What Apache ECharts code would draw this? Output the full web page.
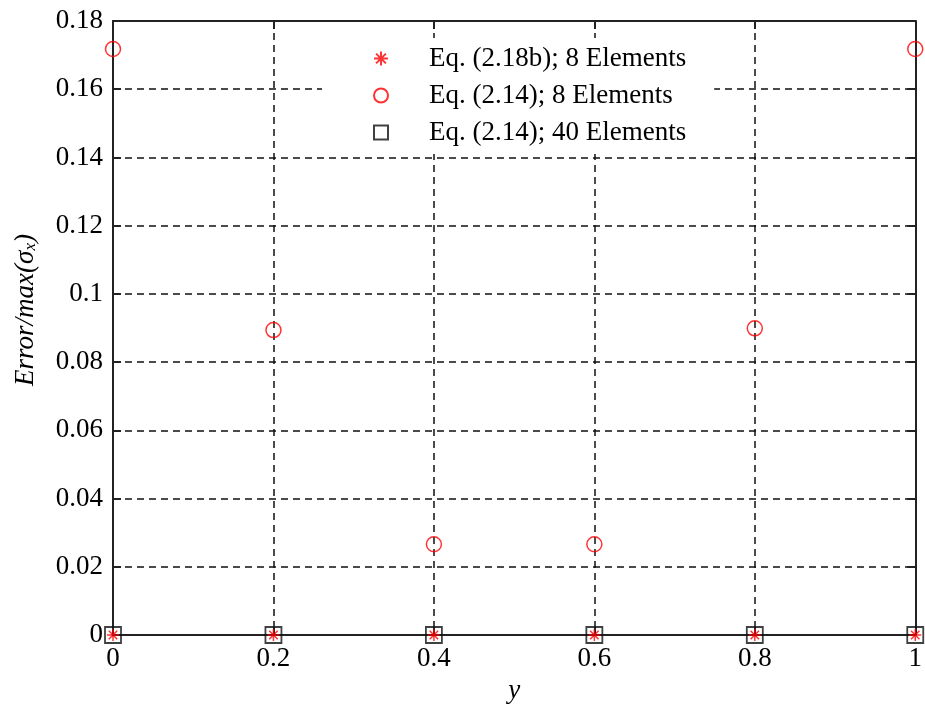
<!DOCTYPE html>
<html>
<head>
<meta charset="utf-8">
<script src="https://cdn.jsdelivr.net/npm/echarts@6/dist/echarts.min.js"></script>
<style>html,body{margin:0;padding:0;background:#fff}#c{width:925px;height:710px}</style>
</head>
<body>
<div id="c"></div>
<script>
// Data
const xValues = [0, 0.2, 0.4, 0.6, 0.8, 1];
const eq218b8 = [0, 0, 0, 0, 0, 0];
const eq214_8 = [0.1718, 0.0894, 0.0266, 0.0266, 0.0899, 0.1718];
const eq214_40 = [0, 0, 0, 0, 0, 0];
const seriesNames = ['Eq. (2.18b); 8 Elements', 'Eq. (2.14); 8 Elements', 'Eq. (2.14); 40 Elements'];

const pairs = arr => xValues.map((x, i) => [x, arr[i]]);
const font = 'Liberation Serif';
const starPath = 'path://M0 -6 L0 6 M-6 0 L6 0 M-4.2 -4.2 L4.2 4.2 M-4.2 4.2 L4.2 -4.2';

const chart = echarts.init(document.getElementById('c'));
const axisCommon = {
  axisLine: { onZero: false, lineStyle: { color: '#222', width: 2 } },
  axisTick: { inside: true, length: 8, lineStyle: { color: '#222', width: 2 } },
};
const gridLine = { show: true, lineStyle: { color: '#111', type: [7, 5], width: 1.5 } };
chart.setOption({
  animation: false,
  backgroundColor: '#fff',
  grid: { left: 113, right: 5, top: 21, bottom: 75, containLabel: false },
  legend: {
    orient: 'vertical',
    left: 322, top: 38,
    padding: [7, 28, 8, 51],
    backgroundColor: '#fff',
    itemWidth: 14, itemHeight: 14,
    itemGap: 10,
    data: seriesNames.map(n => ({ name: n })),
    textStyle: { fontFamily: font, fontSize: 27, color: '#000', padding: [0, 0, 0, 36], lineHeight: 27 }
  },
  xAxis: [{
    type: 'value', min: 0, max: 1, interval: 0.2, position: 'bottom',
    name: 'y', nameLocation: 'middle', nameGap: 42,
    nameTextStyle: { fontFamily: font, fontSize: 27, fontStyle: 'italic', color: '#000' },
    ...axisCommon,
    axisLabel: { fontFamily: font, fontSize: 27, color: '#000', margin: 10, formatter: v => String(+v.toFixed(1)) },
    splitLine: gridLine
  }, {
    type: 'value', min: 0, max: 1, interval: 0.2, position: 'top',
    ...axisCommon, axisLabel: { show: false }, splitLine: { show: false }
  }],
  yAxis: [{
    type: 'value', min: 0, max: 0.18, interval: 0.02, position: 'left',
    name: '{i|Error/max(σ}{s|x}{i|)}', nameLocation: 'middle', nameGap: 74,
    nameTextStyle: {
      padding: [0, 0, 0, 36],
      rich: {
        i: { fontFamily: font, fontSize: 27, fontStyle: 'italic', color: '#000' },
        s: { fontFamily: font, fontSize: 17, fontStyle: 'italic', color: '#000', verticalAlign: 'bottom', padding: [10, 0, 0, 0] }
      }
    },
    ...axisCommon,
    axisLabel: { fontFamily: font, fontSize: 27, color: '#000', margin: 10, formatter: v => String(+v.toFixed(2)) },
    splitLine: gridLine
  }, {
    type: 'value', min: 0, max: 0.18, interval: 0.02, position: 'right',
    ...axisCommon, axisLabel: { show: false }, splitLine: { show: false }
  }],
  series: [{
    name: seriesNames[0], type: 'scatter', data: pairs(eq218b8),
    symbol: starPath, symbolSize: 12,
    itemStyle: { color: 'rgba(0,0,0,0)', borderColor: '#ff0000', borderWidth: 1.5 }, z: 3
  }, {
    name: seriesNames[1], type: 'scatter', data: pairs(eq214_8),
    symbol: 'circle', symbolSize: 15,
    itemStyle: { color: 'rgba(0,0,0,0)', borderColor: '#ff0000', borderWidth: 1.5 }, z: 4
  }, {
    name: seriesNames[2], type: 'scatter', data: pairs(eq214_40),
    symbol: 'rect', symbolSize: 16,
    itemStyle: { color: 'rgba(0,0,0,0)', borderColor: '#111', borderWidth: 1.8 }, z: 5
  }]
});
</script>
</body>
</html>
